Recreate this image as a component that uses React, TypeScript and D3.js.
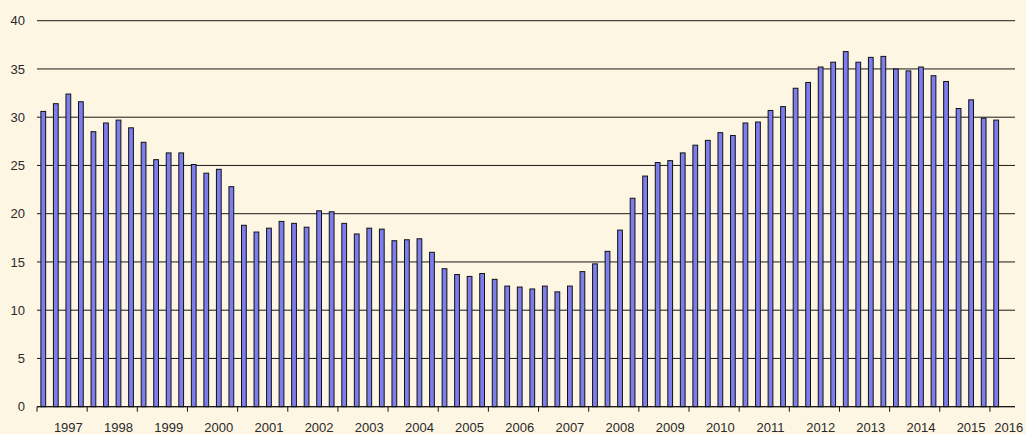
import React from "react";
import * as d3 from "d3";

// quarterly values, 1997 Q1 .. 2016 Q1
const values = [
  30.6, 31.4, 32.4, 31.6,
  28.5, 29.4, 29.7, 28.9,
  27.4, 25.6, 26.3, 26.3,
  25.1, 24.2, 24.6, 22.8,
  18.8, 18.1, 18.5, 19.2,
  19.0, 18.6, 20.3, 20.2,
  19.0, 17.9, 18.5, 18.4,
  17.2, 17.3, 17.4, 16.0,
  14.3, 13.7, 13.5, 13.8,
  13.2, 12.5, 12.4, 12.2,
  12.5, 11.9, 12.5, 14.0,
  14.8, 16.1, 18.3, 21.6,
  23.9, 25.3, 25.5, 26.3,
  27.1, 27.6, 28.4, 28.1,
  29.4, 29.5, 30.7, 31.1,
  33.0, 33.6, 35.2, 35.7,
  36.8, 35.7, 36.2, 36.3,
  35.0, 34.8, 35.2, 34.3,
  33.7, 30.9, 31.8, 29.9,
  29.7,
];

// one extra empty slot at the end, as in the original
const slotCount = 78;
const years = d3.range(1997, 2017).map(String);
const yTicks = [0, 5, 10, 15, 20, 25, 30, 35, 40];

const width = 1026;
const height = 434;
const left = 37;
const right = 1015;
const top = 20.7;
const bottom = 406.7;

export default function App() {
  const x = d3
    .scaleBand<number>()
    .domain(d3.range(slotCount))
    .range([left, right])
    .paddingInner(0.62)
    .paddingOuter(0.31);

  const y = d3.scaleLinear().domain([0, 40]).range([bottom, top]);

  const step = x.step();
  // slot boundaries every 4 quarters
  const tickXs = d3.range(0, slotCount - 1, 4).map((i) => left + i * step);

  // label position: 3rd quarter of each year, last label on final slot
  const labelIndex = (k: number) => (k < years.length - 1 ? 4 * k + 2 : slotCount - 1);

  return (
    <svg
      width={width}
      height={height}
      style={{ position: "absolute", left: 0, top: 0, background: "#FDF6E3" }}
      fontFamily="Arial, 'Liberation Sans', sans-serif"
    >
      <rect x={0} y={0} width={width} height={height} fill="#FDF6E3" />

      {/* gridlines */}
      {yTicks.map((t) => (
        <line key={`g-${t}`} x1={left} x2={right} y1={y(t)} y2={y(t)} stroke="#1a1a1a" strokeWidth={1} />
      ))}

      {/* y labels */}
      {yTicks.map((t) => (
        <text
          key={`yl-${t}`}
          x={25}
          y={y(t)}
          dy="0.35em"
          textAnchor="end"
          fontSize={13}
          fill="#2a2a2a"
        >
          {t}
        </text>
      ))}

      {/* bars */}
      {values.map((v, i) => (
        <rect
          key={`b-${i}`}
          x={x(i)}
          y={y(v)}
          width={x.bandwidth()}
          height={y(0) - y(v)}
          fill="#7D7DEE"
          stroke="#111"
          strokeWidth={1}
        />
      ))}

      {/* x axis */}
      <line x1={left} x2={right} y1={bottom} y2={bottom} stroke="#111" strokeWidth={1} />
      {tickXs.map((tx, i) => (
        <line key={`t-${i}`} x1={tx} x2={tx} y1={bottom} y2={bottom + 5} stroke="#111" strokeWidth={1} />
      ))}
      {years.map((yr, k) => (
        <text
          key={`xl-${yr}`}
          x={(x(labelIndex(k)) as number) + x.bandwidth() / 2}
          y={432}
          textAnchor="middle"
          fontSize={13}
          fill="#2a2a2a"
        >
          {yr}
        </text>
      ))}
    </svg>
  );
}
